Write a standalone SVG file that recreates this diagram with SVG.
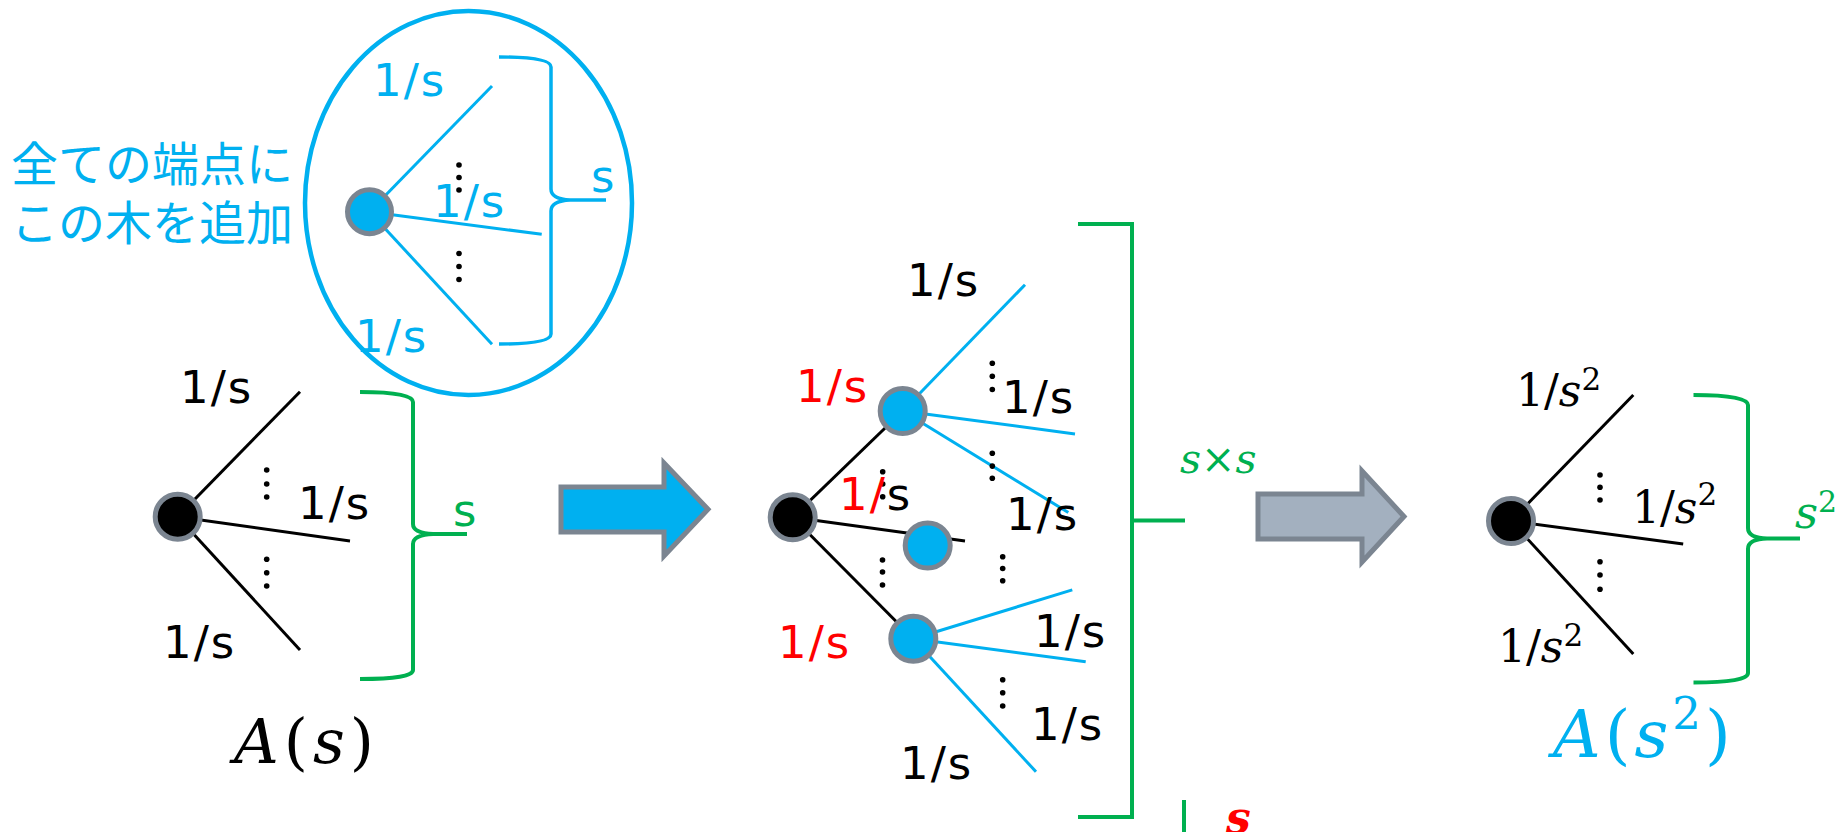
<svg xmlns="http://www.w3.org/2000/svg" width="1843" height="832" viewBox="0 0 1843 832">
<style>
.lbl{font-family:"DejaVu Sans","Liberation Sans",sans-serif;font-size:45px;letter-spacing:2px}
.math{font-family:"DejaVu Serif","Liberation Serif",serif}
.it{font-style:italic}
.blk{fill:#000}
.blu{fill:#00B0F0}
.grn{fill:#00B050}
.red{fill:#FF0000}
.eb{stroke:#000;stroke-width:3;fill:none}
.ebl{stroke:#00B0F0;stroke-width:3;fill:none}
.brg{stroke:#00B050;stroke-width:4;fill:none}
.brb{stroke:#00B0F0;stroke-width:3.5;fill:none}
.nk{fill:#000;stroke:#7B8591;stroke-width:5}
.nb{fill:#00B0F0;stroke:#7B8591;stroke-width:5}
.dot{fill:#000}
.jp{font-family:"Noto Sans CJK JP","Noto Sans CJK SC",sans-serif;font-size:47px;fill:#00B0F0}
</style>
<rect width="1843" height="832" fill="#fff"/>

<g id="add-tree">
  <ellipse cx="468.5" cy="203" rx="163.5" ry="192" fill="none" stroke="#00B0F0" stroke-width="4.5"/>
  <text class="jp" x="11" y="181">全ての端点に</text>
  <text class="jp" x="11" y="240">この木を追加</text>
</g>

<g id="connectors">
  <line class="ebl" x1="369.5" y1="211.7" x2="492" y2="86"/>
  <line class="ebl" x1="369.5" y1="211.7" x2="541.7" y2="234.3"/>
  <line class="ebl" x1="369.5" y1="211.7" x2="492" y2="344.3"/>
  <line class="eb" x1="177.7" y1="516.7" x2="300" y2="391.7"/>
  <line class="eb" x1="177.7" y1="516.7" x2="350" y2="541"/>
  <line class="eb" x1="177.7" y1="516.7" x2="300" y2="650"/>
  <line class="eb" x1="792.7" y1="517.3" x2="902.7" y2="411"/>
  <line class="eb" x1="792.7" y1="517.3" x2="965" y2="541"/>
  <line class="eb" x1="792.7" y1="517.3" x2="913.3" y2="638.7"/>
  <line class="ebl" x1="902.7" y1="411" x2="1025" y2="284.7"/>
  <line class="ebl" x1="902.7" y1="411" x2="1075" y2="433.9"/>
  <line class="ebl" x1="902.7" y1="411" x2="1068.3" y2="512.5"/>
  <line class="ebl" x1="913.3" y1="638.7" x2="1072.3" y2="589.9"/>
  <line class="ebl" x1="913.3" y1="638.7" x2="1085.7" y2="661.7"/>
  <line class="ebl" x1="913.3" y1="638.7" x2="1036" y2="771.8"/>
  <line class="eb" x1="1511" y1="521" x2="1633.3" y2="395"/>
  <line class="eb" x1="1511" y1="521" x2="1683.2" y2="544"/>
  <line class="eb" x1="1511" y1="521" x2="1633.3" y2="654"/>
</g>

<g id="braces">
  <path class="brb" d="M 499 57 Q 551 57 551 67 L 551 189 Q 551 199 570 200 L 606 200 M 570 200 Q 551 201 551 211 L 551 334 Q 551 344 499 344"/>
  <path class="brg" d="M 360 392 Q 413 392 413 402 L 413 524 Q 413 533 433 534 L 467 534 M 433 534 Q 413 535 413 544 L 413 670 Q 413 679 360 679"/>
  <path class="brg" d="M 1078 224 L 1132 224 L 1132 817 L 1078 817 M 1132 520.5 L 1185 520.5"/>
  <path class="brg" d="M 1184 800 L 1184 840"/>
  <path class="brg" d="M 1693.5 395 Q 1748 395 1748 405 L 1748 528 Q 1748 538 1767 538.5 L 1800 538.5 M 1767 538.5 Q 1748 539 1748 549 L 1748 673 Q 1748 682.5 1693.5 682.5"/>
</g>

<g id="arrows">
  <path id="arrow-blue" d="M 561 487 L 664 487 L 664 463 L 708 509.3 L 664 556 L 664 532 L 561 532 Z" fill="#00B0F0" stroke="#7B8591" stroke-width="5"/>
  <path id="arrow-gray" d="M 1258 494 L 1362 494 L 1362 471 L 1404 516.5 L 1362 562 L 1362 539 L 1258 539 Z" fill="#A3B0BF" stroke="#7B8591" stroke-width="5"/>
</g>

<g id="dots">
  <circle class="dot" cx="459" cy="165" r="2.8"/><circle class="dot" cx="459" cy="177.5" r="2.8"/><circle class="dot" cx="459" cy="190" r="2.8"/>
  <circle class="dot" cx="459" cy="253.5" r="2.8"/><circle class="dot" cx="459" cy="266.5" r="2.8"/><circle class="dot" cx="459" cy="279.5" r="2.8"/>
  <circle class="dot" cx="266.7" cy="470" r="2.8"/><circle class="dot" cx="266.7" cy="484" r="2.8"/><circle class="dot" cx="266.7" cy="497" r="2.8"/>
  <circle class="dot" cx="266.7" cy="559.3" r="2.8"/><circle class="dot" cx="266.7" cy="572.7" r="2.8"/><circle class="dot" cx="266.7" cy="586" r="2.8"/>
  <circle class="dot" cx="992.3" cy="363.3" r="2.8"/><circle class="dot" cx="992.3" cy="376.2" r="2.8"/><circle class="dot" cx="992.3" cy="389.5" r="2.8"/>
  <circle class="dot" cx="992.3" cy="453.2" r="2.8"/><circle class="dot" cx="992.3" cy="466.1" r="2.8"/><circle class="dot" cx="992.3" cy="478.2" r="2.8"/>
  <circle class="dot" cx="882.7" cy="471.7" r="2.8"/><circle class="dot" cx="882.7" cy="484" r="2.8"/><circle class="dot" cx="882.7" cy="496.7" r="2.8"/>
  <circle class="dot" cx="882.5" cy="560" r="2.8"/><circle class="dot" cx="882.5" cy="572" r="2.8"/><circle class="dot" cx="882.5" cy="585" r="2.8"/>
  <circle class="dot" cx="1002.7" cy="556.7" r="2.8"/><circle class="dot" cx="1002.7" cy="568.5" r="2.8"/><circle class="dot" cx="1002.7" cy="580.7" r="2.8"/>
  <circle class="dot" cx="1002.7" cy="679.8" r="2.8"/><circle class="dot" cx="1002.7" cy="692.7" r="2.8"/><circle class="dot" cx="1002.7" cy="706" r="2.8"/>
  <circle class="dot" cx="1600" cy="475" r="2.8"/><circle class="dot" cx="1600" cy="487.3" r="2.8"/><circle class="dot" cx="1600" cy="500" r="2.8"/>
  <circle class="dot" cx="1600" cy="561.7" r="2.8"/><circle class="dot" cx="1600" cy="575" r="2.8"/><circle class="dot" cx="1600" cy="589.3" r="2.8"/>
</g>

<g id="node-add-root"><circle class="nb" cx="369.5" cy="211.7" r="22"/></g>
<g id="node-left-root"><circle class="nk" cx="177.7" cy="516.7" r="22.5"/></g>
<g id="node-mid-root"><circle class="nk" cx="792.7" cy="517.3" r="22.5"/></g>
<g id="node-mid-a"><circle class="nb" cx="902.7" cy="411" r="22.5"/></g>
<g id="node-mid-b"><circle class="nb" cx="927.7" cy="545.5" r="22.5"/></g>
<g id="node-mid-c"><circle class="nb" cx="913.3" cy="638.7" r="22.5"/></g>
<g id="node-right-root"><circle class="nk" cx="1511" cy="521" r="22.5"/></g>

<g id="labels">
  <text class="lbl blu" x="373" y="96">1/s</text>
  <text class="lbl blu" x="433" y="217">1/s</text>
  <text class="lbl blu" x="355" y="352">1/s</text>
  <text class="lbl blu" x="591" y="191.7">s</text>
  <text class="lbl blk" x="180" y="403">1/s</text>
  <text class="lbl blk" x="298" y="519">1/s</text>
  <text class="lbl blk" x="163" y="658">1/s</text>
  <text class="lbl grn" x="453" y="525.7">s</text>
  <text class="math blk" x="234" y="763" font-size="62" letter-spacing="5"><tspan class="it">A</tspan>(<tspan class="it">s</tspan>)</text>
  <text class="lbl blk" x="907" y="296">1/s</text>
  <text class="lbl blk" x="1002" y="413">1/s</text>
  <text class="lbl blk" x="1006" y="530">1/s</text>
  <text class="lbl blk" x="1034" y="647">1/s</text>
  <text class="lbl blk" x="1031" y="739.5">1/s</text>
  <text class="lbl blk" x="900" y="778.6">1/s</text>
  <text class="lbl red" x="796" y="401.6">1/s</text>
  <text class="lbl red" x="778" y="657.7">1/s</text>
  <text class="lbl" x="839" y="510"><tspan class="red">1/</tspan><tspan class="blk">s</tspan></text>
  <text class="math grn it" x="1180" y="473" font-size="41">s<tspan font-style="normal">×</tspan>s</text>
  <text class="math red it" x="1226" y="833" font-size="44" font-weight="bold">s</text>
  <text class="math blk" x="1516" y="405.7" font-size="44">1/<tspan class="it">s</tspan><tspan font-size="31" dy="-16">2</tspan></text>
  <text class="math blk" x="1632" y="523.3" font-size="44">1/<tspan class="it">s</tspan><tspan font-size="31" dy="-18">2</tspan></text>
  <text class="math blk" x="1498" y="661.7" font-size="44">1/<tspan class="it">s</tspan><tspan font-size="31" dy="-16">2</tspan></text>
  <text class="math grn" x="1795" y="528.3" font-size="45"><tspan class="it">s</tspan><tspan font-size="30" dy="-16.6">2</tspan></text>
  <text class="math blu" x="1553" y="757" font-size="66" letter-spacing="4"><tspan class="it">A</tspan>(<tspan class="it">s</tspan><tspan font-size="45" dy="-28">2</tspan><tspan dy="28">)</tspan></text>
</g>
</svg>
